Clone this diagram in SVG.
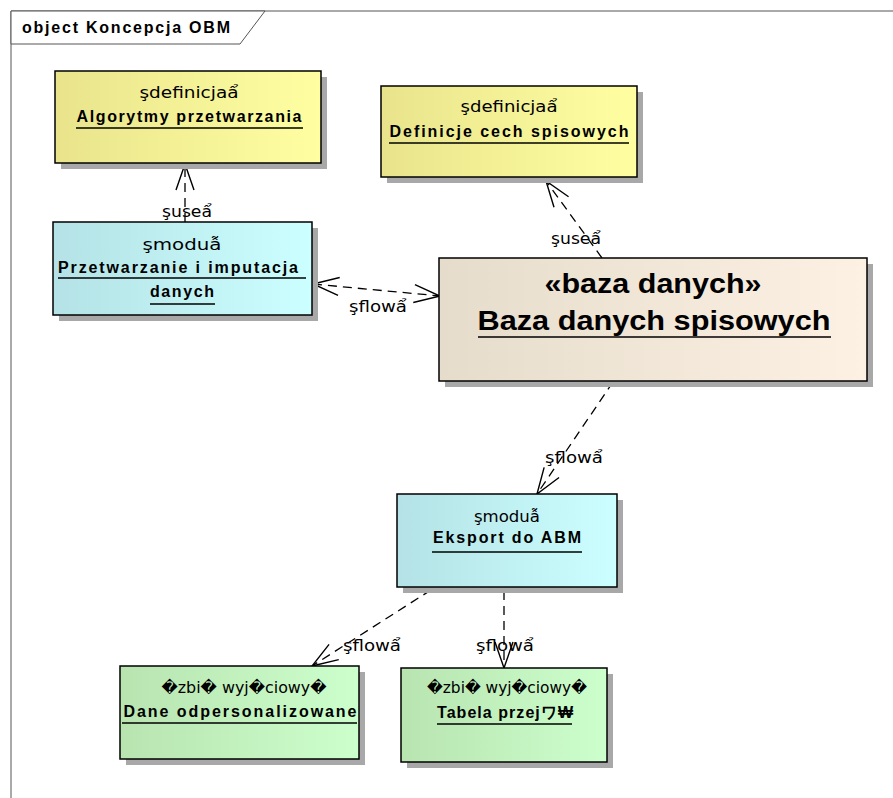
<svg xmlns="http://www.w3.org/2000/svg" width="893" height="798" viewBox="0 0 893 798">
<style>
.frame{fill:none;stroke:#555;stroke-width:1}
.box{stroke:#000;stroke-width:1.5}
.shadow{fill:#a8a8a8}
.st{font-family:"DejaVu Sans","Liberation Sans",sans-serif;font-size:16px;fill:#000;text-anchor:middle}
.nm{font-family:"Liberation Sans",Arial,sans-serif;font-size:16px;font-weight:bold;fill:#000;text-anchor:middle}
.ul{stroke:#000;stroke-width:1.3}
.conn{fill:none;stroke:#000;stroke-width:1.3;stroke-dasharray:9,6}
.lbl{font-family:"DejaVu Sans","Liberation Sans",sans-serif;font-size:16px;fill:#000;text-anchor:middle}
</style>
<defs>
<linearGradient id="gY" x1="0" y1="0" x2="1" y2="0"><stop offset="0" stop-color="#e9e48c"/><stop offset="1" stop-color="#ffffa2"/></linearGradient>
<linearGradient id="gC" x1="0" y1="0" x2="1" y2="0"><stop offset="0" stop-color="#b4e2e6"/><stop offset="1" stop-color="#ccffff"/></linearGradient>
<linearGradient id="gB" x1="0" y1="0" x2="1" y2="0"><stop offset="0" stop-color="#e6dccc"/><stop offset="1" stop-color="#fcf1e2"/></linearGradient>
<linearGradient id="gG" x1="0" y1="0" x2="1" y2="0"><stop offset="0" stop-color="#b8e4b0"/><stop offset="1" stop-color="#ccffcc"/></linearGradient>
<marker id="arr" markerUnits="userSpaceOnUse" viewBox="-30 -15 32 30" markerWidth="32" markerHeight="30" refX="0" refY="0" orient="auto-start-reverse">
<path d="M-26,-9 L0,0 L-26,9" fill="none" stroke="#000" stroke-width="1.4" stroke-dasharray="none"/>
</marker>
</defs>
<rect width="893" height="798" fill="#fff"/>
<g id="frame">
<path class="frame" d="M11,800 L11,11 L895,11"/>
<path d="M11,11 L265,11 L240,44 L11,44 Z" fill="#fff" stroke="#555" stroke-width="1"/>
<text x="22" y="33" font-family="Liberation Sans,Arial,sans-serif" font-size="16" font-weight="bold" textLength="208" lengthAdjust="spacing">object Koncepcja OBM</text>
</g>
<g id="connectors">
<line class="conn" x1="185" y1="222" x2="185" y2="164" marker-end="url(#arr)"/>
<text class="lbl" x="187" y="217" textLength="50" lengthAdjust="spacingAndGlyphs">şuseẩ</text>
<line class="conn" x1="313" y1="284" x2="440" y2="296" marker-start="url(#arr)" marker-end="url(#arr)"/>
<text class="lbl" x="378" y="312" textLength="58" lengthAdjust="spacingAndGlyphs">şflowẩ</text>
<line class="conn" x1="602" y1="258" x2="546" y2="181" marker-end="url(#arr)"/>
<text class="lbl" x="576" y="244" textLength="50" lengthAdjust="spacingAndGlyphs">şuseẩ</text>
<line class="conn" x1="613" y1="382" x2="537" y2="494" marker-end="url(#arr)"/>
<text class="lbl" x="574" y="463" textLength="58" lengthAdjust="spacingAndGlyphs">şflowẩ</text>
<line class="conn" x1="431" y1="590" x2="312" y2="666" marker-end="url(#arr)"/>
<text class="lbl" x="372" y="651" textLength="58" lengthAdjust="spacingAndGlyphs">şflowẩ</text>
<line class="conn" x1="504" y1="591" x2="504" y2="668" marker-end="url(#arr)"/>
<text class="lbl" x="505" y="651" textLength="58" lengthAdjust="spacingAndGlyphs">şflowẩ</text>
</g>
<g id="algorytmy">
<rect class="shadow" x="61" y="77" width="266" height="92"/>
<rect class="box" x="55" y="71" width="266" height="92" fill="url(#gY)"/>
<text class="st" x="189" y="98" textLength="99" lengthAdjust="spacingAndGlyphs">şdefinicjaẩ</text>
<text class="nm" x="189" y="122" textLength="225" lengthAdjust="spacing">Algorytmy przetwarzania</text>
<line class="ul" x1="76" y1="128" x2="303" y2="128"/>
</g>
<g id="definicje">
<rect class="shadow" x="387" y="92" width="256" height="91"/>
<rect class="box" x="381" y="86" width="256" height="91" fill="url(#gY)"/>
<text class="st" x="509" y="112" textLength="97" lengthAdjust="spacingAndGlyphs">şdefinicjaẩ</text>
<text class="nm" x="509" y="137" textLength="239" lengthAdjust="spacing">Definicje cech spisowych</text>
<line class="ul" x1="389" y1="143" x2="629" y2="143"/>
</g>
<g id="przetwarzanie">
<rect class="shadow" x="59" y="228" width="259" height="93"/>
<rect class="box" x="53" y="222" width="259" height="93" fill="url(#gC)"/>
<text class="st" x="182" y="250" textLength="79" lengthAdjust="spacingAndGlyphs">şmoduẫ</text>
<text class="nm" x="178" y="273" textLength="240" lengthAdjust="spacing">Przetwarzanie i imputacja</text>
<line class="ul" x1="58" y1="278" x2="306" y2="278"/>
<text class="nm" x="182" y="297" textLength="64" lengthAdjust="spacing">danych</text>
<line class="ul" x1="150" y1="304" x2="215" y2="304"/>
</g>
<g id="baza">
<rect class="shadow" x="445" y="264" width="428" height="123"/>
<rect class="box" x="439" y="258" width="428" height="123" fill="url(#gB)"/>
<text class="nm" x="653" y="293" style="font-size:28px" textLength="217" lengthAdjust="spacingAndGlyphs">«baza danych»</text>
<text class="nm" x="654" y="330" style="font-size:28px" textLength="353" lengthAdjust="spacingAndGlyphs">Baza danych spisowych</text>
<line class="ul" x1="478" y1="337" x2="831" y2="337" style="stroke-width:1.6"/>
</g>
<g id="eksport">
<rect class="shadow" x="403" y="500" width="220" height="93"/>
<rect class="box" x="397" y="494" width="220" height="93" fill="url(#gC)"/>
<text class="st" x="507" y="522" textLength="66" lengthAdjust="spacingAndGlyphs">şmoduẫ</text>
<text class="nm" x="507" y="543" textLength="148" lengthAdjust="spacing">Eksport do ABM</text>
<line class="ul" x1="432" y1="552" x2="582" y2="552"/>
</g>
<g id="dane">
<rect class="shadow" x="126" y="672" width="239" height="93"/>
<rect class="box" x="120" y="666" width="239" height="93" fill="url(#gG)"/>
<text class="st" x="244" y="693" textLength="165" lengthAdjust="spacingAndGlyphs">�zbi� wyj�ciowy�</text>
<text class="nm" x="240" y="717" textLength="233" lengthAdjust="spacing">Dane odpersonalizowane</text>
<line class="ul" x1="122" y1="723" x2="357" y2="723"/>
</g>
<g id="tabela">
<rect class="shadow" x="407" y="674" width="206" height="94"/>
<rect class="box" x="401" y="668" width="206" height="94" fill="url(#gG)"/>
<text class="st" x="507" y="693" textLength="160" lengthAdjust="spacingAndGlyphs">�zbi� wyj�ciowy�</text>
<text class="nm" x="505" y="718" textLength="136" lengthAdjust="spacing">Tabela przejワ₩</text>
<line class="ul" x1="437" y1="724" x2="572" y2="724"/>
</g>
</svg>
